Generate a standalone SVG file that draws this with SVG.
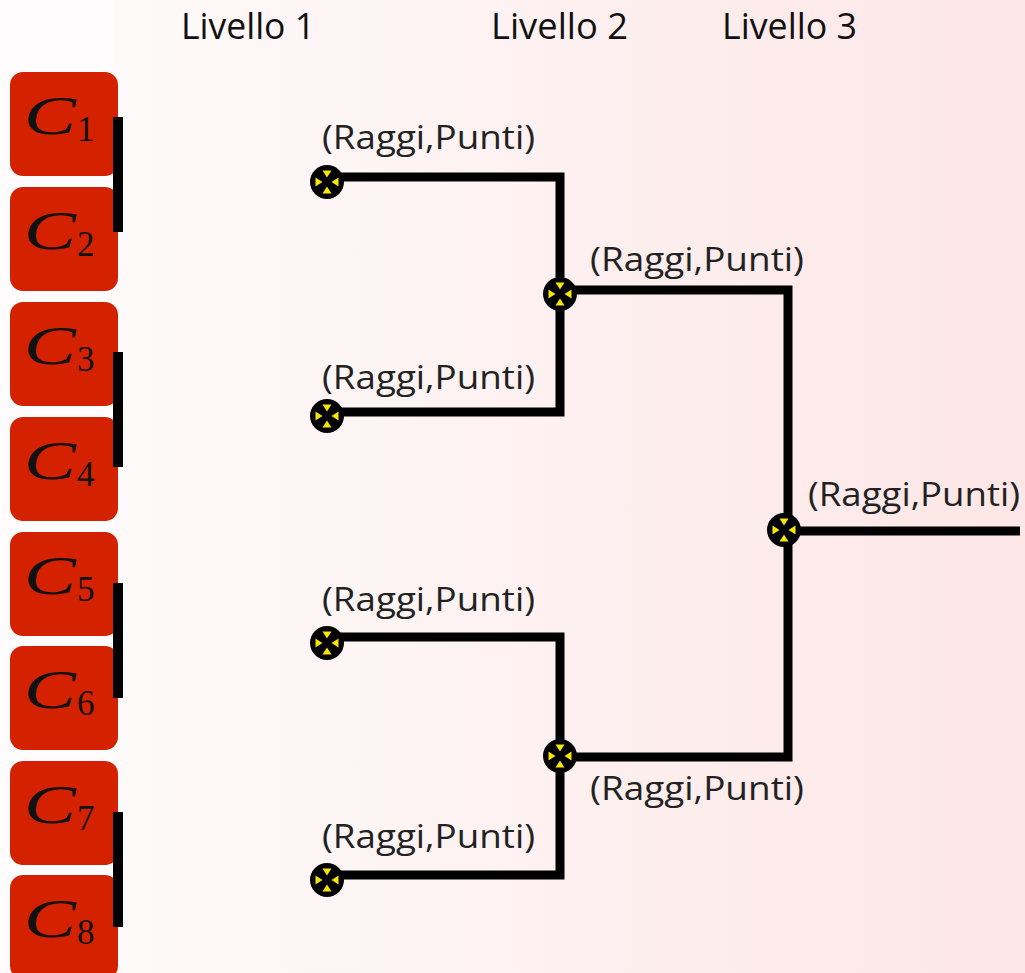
<svg xmlns="http://www.w3.org/2000/svg" width="1025" height="973" viewBox="0 0 1025 973">
<defs>
<linearGradient id="bg" x1="0" y1="0" x2="1" y2="0">
<stop offset="0" stop-color="#fefafa"/>
<stop offset="1" stop-color="#fde6e6"/>
</linearGradient>
<g id="node">
<circle r="17" fill="#000"/>
<polygon points="-4.5,-11.5 4.5,-11.5 0,-4.5" fill="#f5e800"/>
<polygon points="-4.5,11.5 4.5,11.5 0,4.5" fill="#f5e800"/>
<polygon points="-11.5,-4.5 -11.5,4.5 -4.5,0" fill="#f5e800"/>
<polygon points="11.5,-4.5 11.5,4.5 4.5,0" fill="#f5e800"/>
</g>
</defs>
<style>
.box{fill:#d42100}
.bar{fill:#000}
.C{font-family:"Liberation Serif",serif;font-style:italic;font-size:55px;fill:#111}
.sub{font-family:"Liberation Serif",serif;font-size:35px;fill:#111}
.lbl{font-family:"Open Sans",sans-serif;font-size:32px;fill:#222}
.lev{font-family:"Open Sans",sans-serif;font-size:36px;fill:#111}
.wire{fill:none;stroke:#000;stroke-width:9;stroke-linejoin:miter}
</style>
<rect width="1025" height="973" fill="#fefcfc"/>
<rect x="115" width="910" height="973" fill="url(#bg)"/>

<g id="headers">
<text class="lev" x="181" y="39" textLength="134" lengthAdjust="spacingAndGlyphs">Livello 1</text>
<text class="lev" x="491" y="39" textLength="137" lengthAdjust="spacingAndGlyphs">Livello 2</text>
<text class="lev" x="722" y="39" textLength="135" lengthAdjust="spacingAndGlyphs">Livello 3</text>
</g>

<g id="C1"><rect class="box" x="10" y="72" width="108" height="104" rx="13"/><text class="C" x="24" y="134" textLength="52" lengthAdjust="spacingAndGlyphs">C</text><text class="sub" x="77" y="141">1</text></g>
<g id="C2"><rect class="box" x="10" y="187" width="108" height="104" rx="13"/><text class="C" x="24" y="249" textLength="52" lengthAdjust="spacingAndGlyphs">C</text><text class="sub" x="77" y="256">2</text></g>
<g id="C3"><rect class="box" x="10" y="302" width="108" height="104" rx="13"/><text class="C" x="24" y="364" textLength="52" lengthAdjust="spacingAndGlyphs">C</text><text class="sub" x="77" y="371">3</text></g>
<g id="C4"><rect class="box" x="10" y="417" width="108" height="104" rx="13"/><text class="C" x="24" y="479" textLength="52" lengthAdjust="spacingAndGlyphs">C</text><text class="sub" x="77" y="486">4</text></g>
<g id="C5"><rect class="box" x="10" y="532" width="108" height="104" rx="13"/><text class="C" x="24" y="594" textLength="52" lengthAdjust="spacingAndGlyphs">C</text><text class="sub" x="77" y="601">5</text></g>
<g id="C6"><rect class="box" x="10" y="646" width="108" height="104" rx="13"/><text class="C" x="24" y="708" textLength="52" lengthAdjust="spacingAndGlyphs">C</text><text class="sub" x="77" y="715">6</text></g>
<g id="C7"><rect class="box" x="10" y="761" width="108" height="104" rx="13"/><text class="C" x="24" y="823" textLength="52" lengthAdjust="spacingAndGlyphs">C</text><text class="sub" x="77" y="830">7</text></g>
<g id="C8"><rect class="box" x="10" y="875" width="108" height="104" rx="13"/><text class="C" x="24" y="937" textLength="52" lengthAdjust="spacingAndGlyphs">C</text><text class="sub" x="77" y="944">8</text></g>

<g id="bars">
<rect class="bar" x="113" y="117" width="10" height="115"/>
<rect class="bar" x="113" y="352" width="10" height="115"/>
<rect class="bar" x="113" y="583" width="10" height="115"/>
<rect class="bar" x="113" y="812" width="10" height="115"/>
</g>

<g id="connectors">
<polyline class="wire" points="327,177 560,177 560,295"/>
<polyline class="wire" points="327,412 560,412 560,295"/>
<polyline class="wire" points="327,637 560,637 560,757"/>
<polyline class="wire" points="327,875 560,875 560,757"/>
<polyline class="wire" points="560,290 788,290 788,757 560,757"/>
<line class="wire" x1="785" y1="531" x2="1020" y2="531"/>
</g>

<g id="n1"><use href="#node" x="327" y="182"/><text class="lbl" x="322" y="149" textLength="213" lengthAdjust="spacingAndGlyphs">(Raggi,Punti)</text></g>
<g id="n2"><use href="#node" x="327" y="416"/><text class="lbl" x="322" y="389" textLength="213" lengthAdjust="spacingAndGlyphs">(Raggi,Punti)</text></g>
<g id="n3"><use href="#node" x="327" y="643"/><text class="lbl" x="322" y="611" textLength="213" lengthAdjust="spacingAndGlyphs">(Raggi,Punti)</text></g>
<g id="n4"><use href="#node" x="327" y="880"/><text class="lbl" x="322" y="848" textLength="213" lengthAdjust="spacingAndGlyphs">(Raggi,Punti)</text></g>
<g id="n5"><use href="#node" x="560" y="294"/><text class="lbl" x="590" y="271" textLength="214" lengthAdjust="spacingAndGlyphs">(Raggi,Punti)</text></g>
<g id="n6"><use href="#node" x="560" y="756"/><text class="lbl" x="590" y="800" textLength="214" lengthAdjust="spacingAndGlyphs">(Raggi,Punti)</text></g>
<g id="n7"><use href="#node" x="784" y="530"/><text class="lbl" x="808" y="506" textLength="212" lengthAdjust="spacingAndGlyphs">(Raggi,Punti)</text></g>
</svg>
